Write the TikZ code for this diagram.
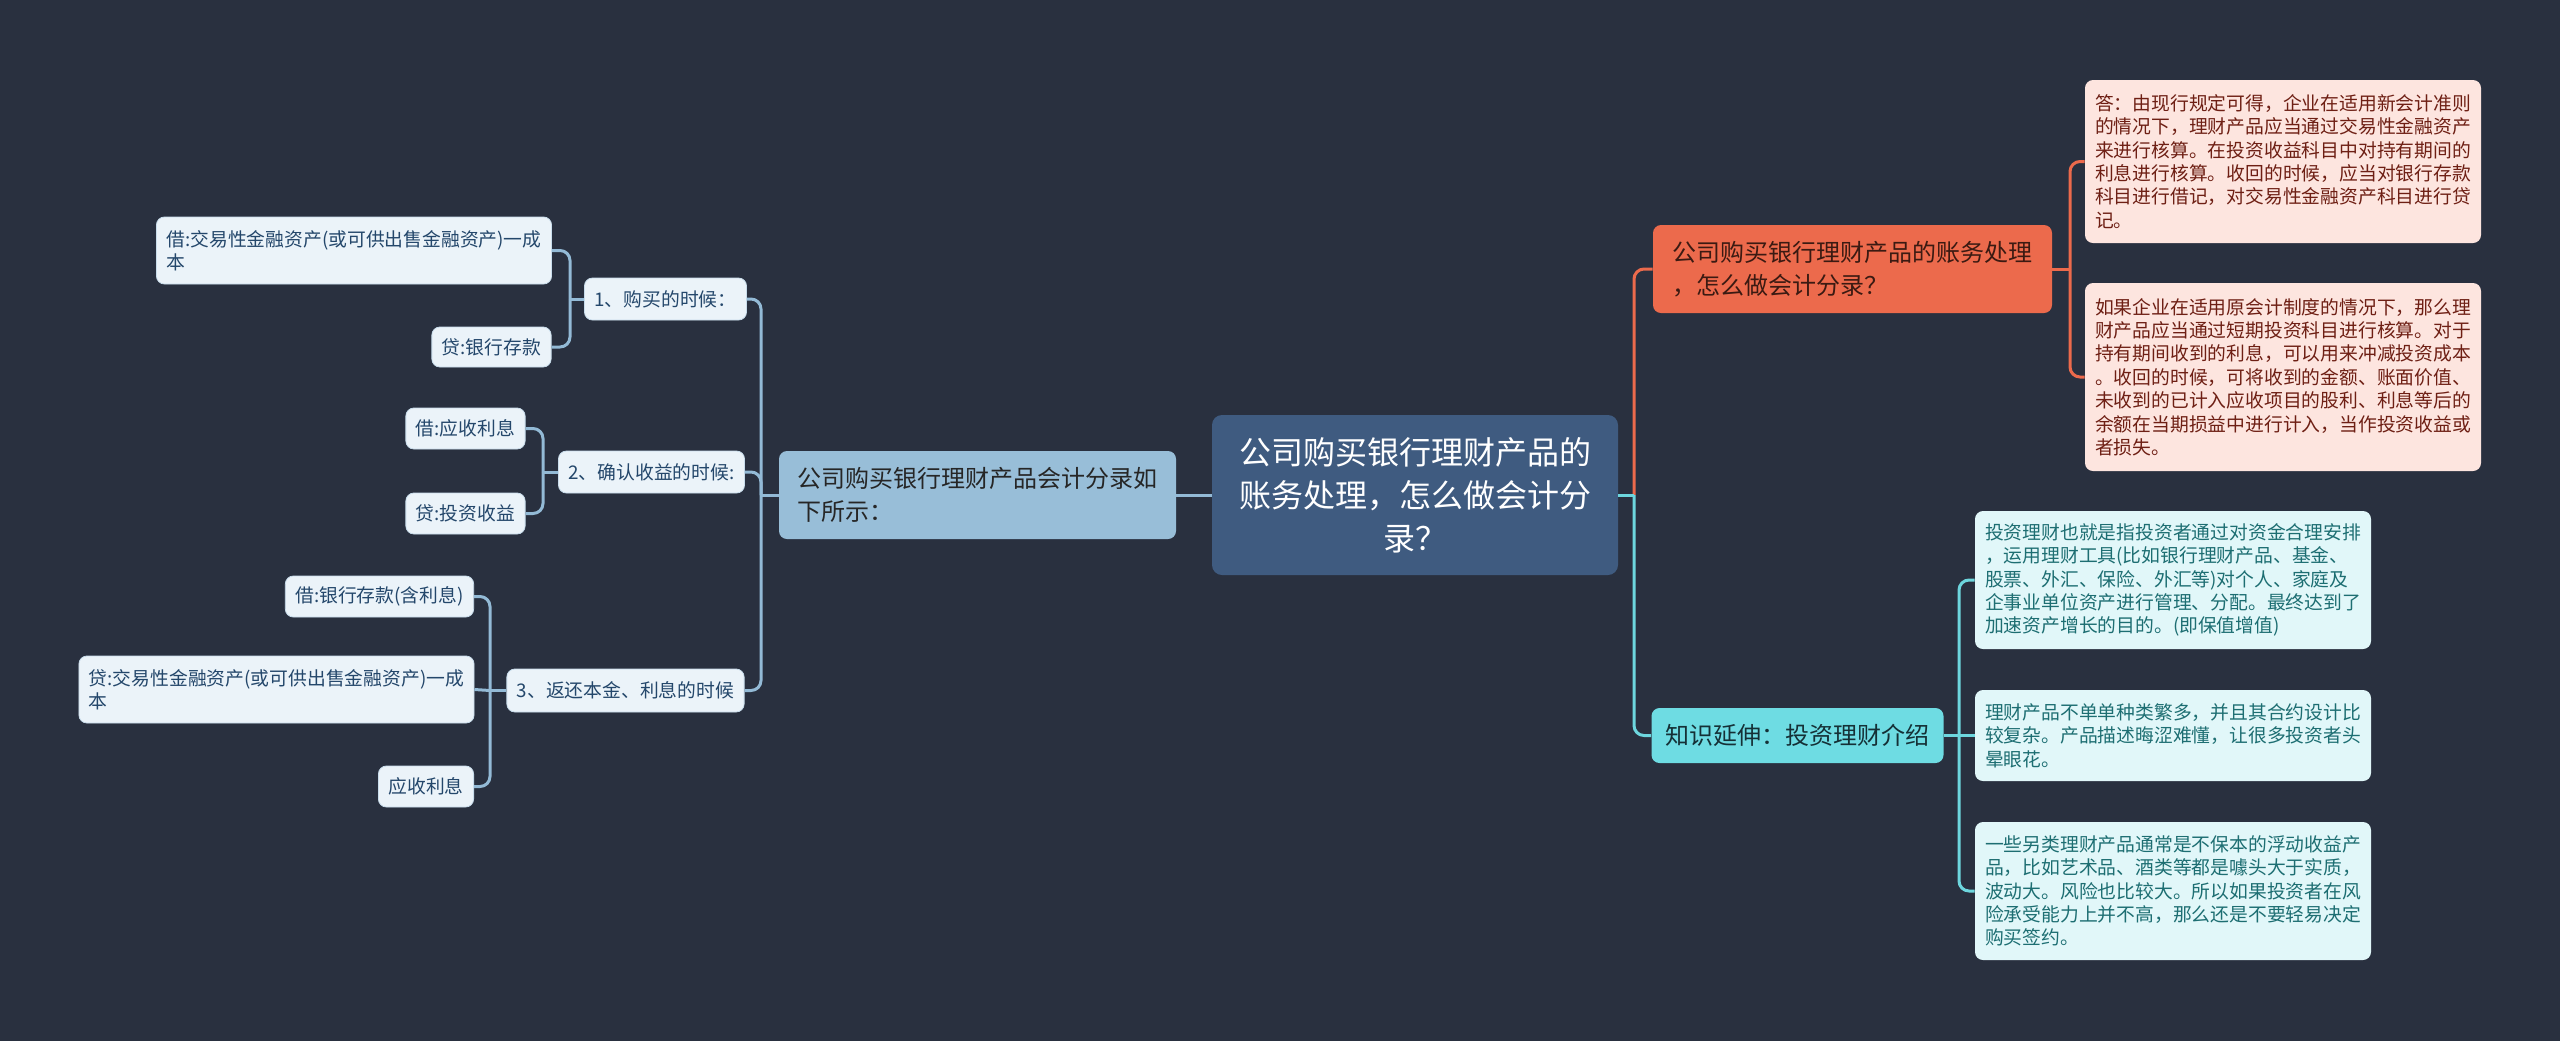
\documentclass[tikz,border=0pt]{standalone}
\usepackage{fontspec}
\setmainfont{Noto Sans CJK SC}
\definecolor{bgdark}{HTML}{29303F}
\definecolor{rootblue}{HTML}{3F5B80}
\definecolor{entryblue}{HTML}{98BED8}
\definecolor{subfill}{HTML}{EBF3F9}
\definecolor{subtext}{HTML}{24476B}
\definecolor{lineblue}{HTML}{93BAD6}
\definecolor{acctorange}{HTML}{EC6A4C}
\definecolor{accttext}{HTML}{3B1A12}
\definecolor{pinkfill}{HTML}{FDE5DF}
\definecolor{pinktext}{HTML}{6E1F14}
\definecolor{extcyan}{HTML}{6EDCE3}
\definecolor{exttext}{HTML}{153036}
\definecolor{tealfill}{HTML}{E1F7F9}
\definecolor{tealtext}{HTML}{1D6E72}
\definecolor{linecyan}{HTML}{6DD6DE}
\tikzset{
  box/.style={rounded corners=4pt, inner xsep=5pt, inner ysep=2pt},
  rootbox/.style={box, rounded corners=5pt, fill=rootblue, text=white, align=center,
    font=\fontsize{16}{21.5}\selectfont},
  midbox/.style={box, inner xsep=7pt, align=left, font=\fontsize{12}{16.5}\selectfont},
  leafbox/.style={box, align=left, font=\fontsize{9.4}{11.7}\selectfont},
  entrybox/.style={midbox, fill=entryblue, text=black!85},
  acctbox/.style={midbox, fill=acctorange, text=accttext},
  extbox/.style={midbox, fill=extcyan, text=exttext},
  subbox/.style={leafbox, fill=subfill, text=subtext, draw=lineblue!40!subfill, line width=0.4pt},
  pinkbox/.style={leafbox, fill=pinkfill, text=pinktext},
  tealbox/.style={leafbox, fill=tealfill, text=tealtext},
  blueline/.style={draw=lineblue, line width=1.5pt, rounded corners=5pt},
  orangeline/.style={draw=acctorange, line width=1.5pt, rounded corners=5pt},
  cyanline/.style={draw=linecyan, line width=1.5pt, rounded corners=5pt}
}
\begin{document}
\begin{tikzpicture}[x=0.5pt, y=-0.5pt]
% background
\fill[bgdark] (0,0) rectangle (2560,1041);
\useasboundingbox (0,0) rectangle (2560,1041);

% root
\node[rootbox, minimum width=203pt, minimum height=80pt] (root) at (1415,495)
  {公司购买银行理财产品的\\账务处理，怎么做会计分\\录？};

% right: accounting treatment
\node[acctbox, minimum width=199.5pt, minimum height=44pt] (acct) at (1852.5,269)
  {公司购买银行理财产品的账务处理\\，怎么做会计分录？};
\node[pinkbox, minimum width=196pt, minimum height=81.5pt] (pink1) at (2283,161.5)
  {答：由现行规定可得，企业在适用新会计准则\\的情况下，理财产品应当通过交易性金融资产\\来进行核算。在投资收益科目中对持有期间的\\利息进行核算。收回的时候，应当对银行存款\\科目进行借记，对交易性金融资产科目进行贷\\记。};
\node[pinkbox, minimum width=196pt, minimum height=94pt] (pink2) at (2283,377)
  {如果企业在适用原会计制度的情况下，那么理\\财产品应当通过短期投资科目进行核算。对于\\持有期间收到的利息，可以用来冲减投资成本\\。收回的时候，可将收到的金额、账面价值、\\未收到的已计入应收项目的股利、利息等后的\\余额在当期损益中进行计入，当作投资收益或\\者损失。};

% right: knowledge extension
\node[extbox, minimum width=144.5pt, minimum height=27.5pt] (ext) at (1797.5,735.5)
  {知识延伸：投资理财介绍};
\node[tealbox, minimum width=196pt, minimum height=69pt] (teal1) at (2173,580)
  {投资理财也就是指投资者通过对资金合理安排\\，运用理财工具(比如银行理财产品、基金、\\股票、外汇、保险、外汇等)对个人、家庭及\\企事业单位资产进行管理、分配。最终达到了\\加速资产增长的目的。(即保值增值)};
\node[tealbox, minimum width=196pt, minimum height=45.5pt] (teal2) at (2173,735.5)
  {理财产品不单单种类繁多，并且其合约设计比\\较复杂。产品描述晦涩难懂，让很多投资者头\\晕眼花。};
\node[tealbox, minimum width=196pt, minimum height=69pt] (teal3) at (2173,891)
  {一些另类理财产品通常是不保本的浮动收益产\\品，比如艺术品、酒类等都是噱头大于实质，\\波动大。风险也比较大。所以如果投资者在风\\险承受能力上并不高，那么还是不要轻易决定\\购买签约。};

% left: entries
\node[entrybox, minimum width=198.5pt, minimum height=44pt] (entry) at (977.5,495)
  {公司购买银行理财产品会计分录如\\下所示：};
\node[subbox, minimum width=77.5pt, minimum height=21pt] (sub1) at (665.5,299) {1、购买的时候：};
\node[subbox, minimum width=196pt, minimum height=33.5pt] (sub1a) at (354,250.5)
  {借:交易性金融资产(或可供出售金融资产)一成\\本};
\node[subbox, minimum width=58.5pt, minimum height=20pt] (sub1b) at (491.5,347) {贷:银行存款};
\node[subbox, minimum width=91.5pt, minimum height=21pt] (sub2) at (651.5,472) {2、确认收益的时候:};
\node[subbox, minimum width=58.5pt, minimum height=20.5pt] (sub2a) at (465.5,428.5) {借:应收利息};
\node[subbox, minimum width=58.5pt, minimum height=20.5pt] (sub2b) at (465.5,513.5) {贷:投资收益};
\node[subbox, minimum width=117.5pt, minimum height=21.5pt] (sub3) at (625.5,690.5) {3、返还本金、利息的时候};
\node[subbox, minimum width=93.5pt, minimum height=20.5pt] (sub3a) at (379.5,596.5) {借:银行存款(含利息)};
\node[subbox, minimum width=196.5pt, minimum height=33.5pt] (sub3b) at (276.5,689.5)
  {贷:交易性金融资产(或可供出售金融资产)一成\\本};
\node[subbox, minimum width=47pt, minimum height=20.5pt] (sub3c) at (426,786.5) {应收利息};

% connectors right
\coordinate (rsp) at (1634,495);
\coordinate (asp) at (2070,269);
\coordinate (esp) at (1959,735.5);
\draw[orangeline] (rsp) |- (acct.west);
\draw[cyanline] (rsp) |- (ext.west);
\draw[cyanline] (root.east) -- (rsp);
\draw[orangeline] (acct.east) -- (asp);
\draw[orangeline] (asp) |- (pink1.west);
\draw[orangeline] (asp) |- (pink2.west);
\draw[cyanline] (ext.east) -- (esp);
\draw[cyanline] (esp) |- (teal1.west);
\draw[cyanline] (esp) -- (teal2.west);
\draw[cyanline] (esp) |- (teal3.west);

% connectors left
\coordinate (lsp) at (761,495);
\coordinate (s1sp) at (570,299);
\coordinate (s2sp) at (543,472);
\coordinate (s3sp) at (490,690.5);
\draw[blueline] (root.west) -- (entry.east);
\draw[blueline] (entry.west) -- (lsp);
\draw[blueline] (lsp) |- (sub1.east);
\draw[blueline] (lsp) |- (sub2.east);
\draw[blueline] (lsp) |- (sub3.east);
\draw[blueline] (sub1.west) -- (s1sp);
\draw[blueline] (s1sp) |- (sub1a.east);
\draw[blueline] (s1sp) |- (sub1b.east);
\draw[blueline] (sub2.west) -- (s2sp);
\draw[blueline] (s2sp) |- (sub2a.east);
\draw[blueline] (s2sp) |- (sub2b.east);
\draw[blueline] (sub3.west) -- (s3sp);
\draw[blueline] (s3sp) |- (sub3a.east);
\draw[blueline] (s3sp) -- (sub3b.east);
\draw[blueline] (s3sp) |- (sub3c.east);
\end{tikzpicture}
\end{document}
